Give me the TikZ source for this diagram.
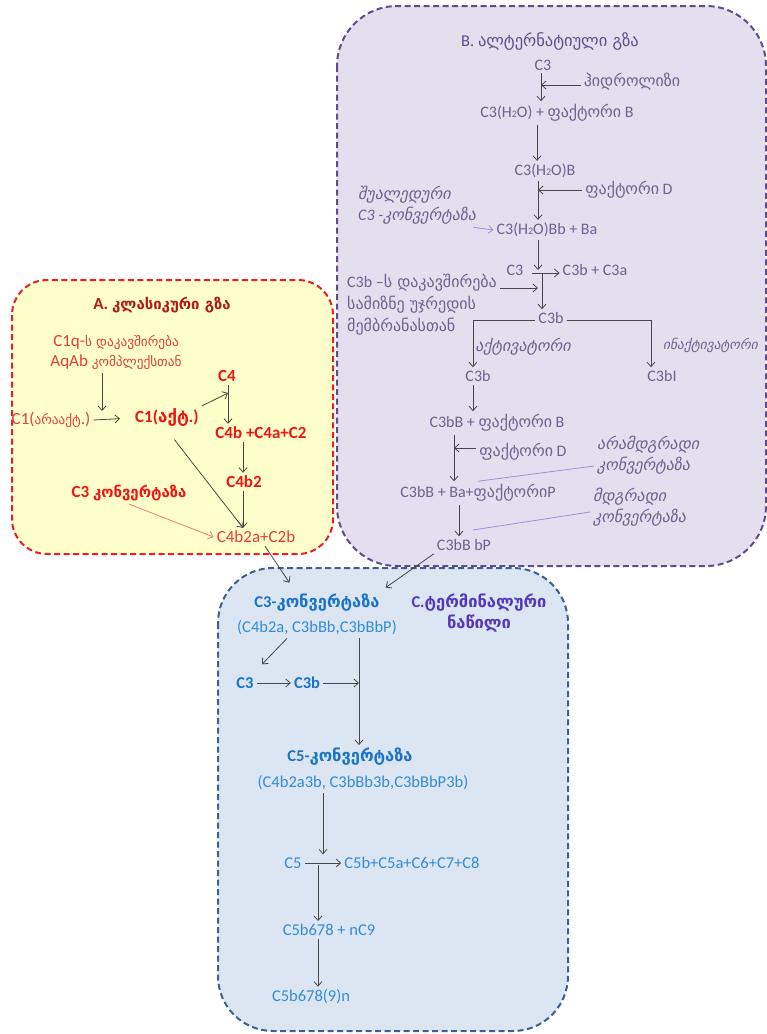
\documentclass[tikz,border=0pt]{standalone}
\usepackage{fontspec}
\setmainfont{Carlito}
\newfontfamily\geofont{DejaVu Sans}
\newfontfamily\geofontS[Scale=0.78]{DejaVu Sans}
\newfontfamily\geofontM[Scale=0.88]{DejaVu Sans}
\usetikzlibrary{arrows.meta}
\newcommand\ka[1]{{\geofont #1}}
\newcommand\kas[1]{{\geofontS #1}}
\newcommand\kam[1]{{\geofontM #1}}
\newcommand\subn[1]{{\fontsize{10}{10}\selectfont #1}}
\definecolor{Afill}{RGB}{255,255,204}
\definecolor{Adraw}{RGB}{235,30,35}
\definecolor{Bfill}{RGB}{228,223,238}
\definecolor{Bdraw}{RGB}{96,76,140}
\definecolor{Cfill}{RGB}{220,230,242}
\definecolor{Cdraw}{RGB}{60,96,146}
\definecolor{Atext}{RGB}{232,60,60}
\definecolor{Abold}{RGB}{240,20,20}
\definecolor{Atitle}{RGB}{180,25,25}
\definecolor{Btext}{RGB}{112,96,146}
\definecolor{Btitle}{RGB}{96,76,140}
\definecolor{Ctext}{RGB}{50,140,215}
\definecolor{Cbold}{RGB}{25,115,200}
\definecolor{Ctitle}{RGB}{85,55,185}
\definecolor{arr}{RGB}{70,70,70}
\definecolor{Blight}{RGB}{165,140,215}
\definecolor{Alight}{RGB}{245,120,120}
\tikzset{
  panel/.style={line width=2pt, dash pattern=on 6pt off 3.5pt},
  tA/.style={inner sep=3pt, text=Atext, font=\fontsize{17}{20}\selectfont},
  tAb/.style={inner sep=3pt, text=Abold, font=\fontsize{17}{20}\selectfont\bfseries},
  tAt/.style={inner sep=3pt, text=Atitle, font=\fontsize{17}{20}\selectfont\bfseries},
  tB/.style={inner sep=3pt, text=Btext, font=\fontsize{16}{22}\selectfont},
  tBi/.style={inner sep=3pt, text=Btext, font=\fontsize{16}{21}\selectfont\itshape},
  tBt/.style={inner sep=3pt, text=Btitle, font=\fontsize{16.5}{20}\selectfont},
  tC/.style={inner sep=3pt, text=Ctext, font=\fontsize{16.5}{21}\selectfont},
  tCb/.style={inner sep=3pt, text=Cbold, font=\fontsize{16.5}{21}\selectfont\bfseries},
  tCt/.style={inner sep=3pt, text=Ctitle, font=\fontsize{16.5}{21}\selectfont\bfseries},
  con/.style={draw=arr, line width=0.8pt, -{Straight Barb[length=4.5pt,width=8pt]}},
  plain/.style={draw=arr, line width=0.8pt},
  lightB/.style={draw=Blight, line width=0.8pt},
  lightBa/.style={draw=Blight, line width=0.8pt, -{Straight Barb[length=4.5pt,width=8pt]}},
  lightAa/.style={draw=Alight, line width=0.8pt, -{Straight Barb[length=4.5pt,width=8pt]}},
}
\begin{document}
\begin{tikzpicture}[x=1pt,y=-1pt]
\useasboundingbox (0,0) rectangle (767,1034);
\fill[white] (0,0) rectangle (767,1034);
% panels
\path[panel, draw=Bdraw, fill=Bfill, rounded corners=60pt] (337,6) rectangle (766,566);
\path[panel, draw=Adraw, fill=Afill, rounded corners=35pt] (12,280) rectangle (333,554);
\path[panel, draw=Cdraw, fill=Cfill, rounded corners=55pt] (218,568) rectangle (568,1031);

% ---------- B ----------
\node[tBt] (btitle) at (550,42) {B. \ka{ალტერნატიული გზა}};
\node[tB] (b1) at (543,65) {C3};
\node[tB] (bhyd) at (632,82) {\ka{ჰიდროლიზი}};
\node[tB] (b2) at (557,113) {C3(H\subn{2}O) + \ka{ფაქტორი} B};
\node[tB] (b3) at (545,171) {C3(H\subn{2}O)B};
\node[tB] (bfd1) at (629,190) {\ka{ფაქტორი} D};
\node[tBi, anchor=west, align=left] (bint) at (355,205) {\ka{შუალედური}\\C3 -\ka{კონვერტაზა}};
\node[tB] (b4) at (547,230) {C3(H\subn{2}O)Bb + Ba};
\node[tB] (b5) at (515,270) {C3};
\node[tB] (b6) at (595,270) {C3b + C3a};
\node[tB, anchor=west, align=left] (bbind) at (344,305) {C3b –\ka{ს დაკავშირება}\\\ka{სამიზნე უჯრედის}\\\ka{მემბრანასთან}};
\node[tB] (b7) at (551,318) {C3b};
\node[tBi] (bact) at (523,347) {\ka{აქტივატორი}};
\node[tBi, anchor=west, font=\fontsize{13.5}{16}\selectfont\itshape] (binact) at (660,345) {\ka{ინაქტივატორი}};
\node[tB] (b8) at (478,376) {C3b};
\node[tB] (b9) at (662,376) {C3bI};
\node[tB] (b10) at (497,423) {C3bB + \ka{ფაქტორი} B};
\node[tB] (bfd2) at (523,452) {\ka{ფაქტორი} D};
\node[tBi, anchor=west, align=left] (bunst) at (594,455) {\ka{არამდგრადი}\\\ka{კონვერტაზა}};
\node[tB] (b11) at (478,493) {C3bB + Ba+\ka{ფაქტორი}P};
\node[tBi, anchor=west, align=left] (bst) at (590,507) {\ka{მდგრადი}\\\ka{კონვერტაზა}};
\node[tB] (b12) at (464,545) {C3bB bP};

\coordinate (xb1) at (541,0);
\coordinate (jb1) at (541,85);
\draw[con] (b1.south -| xb1) -- (b2.north -| xb1);
\draw[con] (bhyd.west |- jb1) -- (jb1);
\coordinate (xb2) at (537,0);
\draw[con] (b2.south -| xb2) -- (b3.north -| xb2);
\coordinate (xb3) at (538,0);
\coordinate (jb2) at (538,190);
\draw[con] (b3.south -| xb3) -- (b4.north -| xb3);
\draw[con] (bfd1.west |- jb2) -- (jb2);
\draw[lightBa] ([xshift=-6pt]bint.south east) -- (b4.west);
\coordinate (jb3) at (538,270);
\draw[con] (b4.south -| jb3) -- (jb3);
\coordinate (jb4) at (532,273);
\draw[con] (jb4) -- (b6.west |- jb4);
\coordinate (jb5) at (542,273);
\draw[con] (jb5) -- (b7.north -| jb5);
\coordinate (jb6) at (538,288);
\draw[con] (bbind.east |- jb6) -- (jb6);
\coordinate (jb7) at (473,320);
\coordinate (jb8) at (651,320);
\draw[plain] (b7.west |- jb7) -- (jb7);
\draw[plain] (b7.east |- jb8) -- (jb8);
\draw[con] (jb7) -- (b8.north -| jb7);
\draw[con] (jb8) -- (b9.north -| jb8);
\coordinate (xb4) at (473,0);
\draw[con] (b8.south -| xb4) -- (b10.north -| xb4);
\coordinate (xb5) at (454,0);
\coordinate (jb9) at (454,448);
\draw[con] (b10.south -| xb5) -- (b11.north -| xb5);
\draw[con] (bfd2.west |- jb9) -- (jb9);
\coordinate (xb6) at (459,0);
\draw[con] (b11.south -| xb6) -- (b12.north -| xb6);
\draw[lightB] (b11.north) -- ([yshift=-11pt]bunst.west);
\coordinate (lb2) at (473,530);
\draw[lightB] (lb2) -- ([yshift=-5pt]bst.west);

% ---------- A ----------
\node[tAt] (atitle) at (162,305) {A. \kam{კლასიკური გზა}};
\node[tA, align=center] (a1) at (116,353) {C1q-\kas{ს დაკავშირება}\\AqAb \kas{კომპლექსთან}};
\node[tA] (a2) at (51,420) {C1(\kas{არააქტ}.)};
\node[tAb] (a3) at (167,418) {C1(\ka{აქტ}.)};
\node[tAb] (a4) at (227,376) {C4};
\node[tAb] (a5) at (261,433) {C4b +C4a+C2};
\node[tAb] (a6) at (244,482) {C4b2};
\node[tAb] (a7) at (129,493) {C3 \kam{კონვერტაზა}};
\node[tA] (a8) at (256,537) {C4b2a+C2b};

\coordinate (ja1) at (102,411);
\draw[con] (a1.south -| ja1) -- (ja1);
\draw[con, shorten >=12pt] (a2.east) -- (a3.west);
\coordinate (ja2) at (228,393);
\draw[con] (a3.north east) -- (ja2);
\coordinate (xa2) at (228,0);
\draw[con] (a4.south -| xa2) -- (a5.north -| xa2);
\coordinate (xa3) at (243,0);
\draw[con] (a5.south -| xa3) -- (a6.north -| xa3);
\draw[con] (a6.south -| xa3) -- (a8.north -| xa3);
\draw[con, shorten <=12pt] (a3.south) -- (a8.north -| xa3);
\draw[lightAa] (a7.south) -- (a8.west);

% ---------- C ----------
\node[tCb] (c1) at (317,603) {C3-\ka{კონვერტაზა}};
\node[tC] (c2) at (317,628) {(C4b2a, C3bBb,C3bBbP)};
\node[tCt, align=center] (ctitle) at (479,613) {C.\ka{ტერმინალური}\\\ka{ნაწილი}};
\node[tCb] (c3) at (245,683) {C3};
\node[tCb] (c4) at (307,683) {C3b};
\node[tCb] (c5) at (350,757) {C5-\ka{კონვერტაზა}};
\node[tC] (c6) at (363,783) {(C4b2a3b, C3bBb3b,C3bBbP3b)};
\node[tC] (c7) at (293,863) {C5};
\node[tC] (c8) at (412,863) {C5b+C5a+C6+C7+C8};
\node[tC] (c9) at (329,930) {C5b678 + nC9};
\node[tC] (c10) at (311,997) {C5b678(9)n};

\draw[con, shorten >=10pt] ([xshift=9pt]a8.south) -- ([xshift=-22pt]c1.north);
\draw[con, shorten >=6pt] (b12.south west) -- ([xshift=-2pt]c1.north east);
\draw[con] ([xshift=-30pt]c2.south) -- ([xshift=17pt,yshift=10pt]c3.north);
\draw[con] (c3.east) -- (c4.west);
\coordinate (xc1) at (359,0);
\draw[con] (c4.east) -- (c4.east -| xc1);
\draw[con] (c2.south -| xc1) -- (c5.north -| xc1);
\coordinate (xc2) at (323,0);
\draw[con] (c6.south -| xc2) -- (c7.north -| xc2);
\draw[con] (c7.east) -- (c8.west);
\coordinate (jc2) at (318,865);
\draw[con] (jc2) -- (c9.north -| jc2);
\coordinate (xc3) at (318,0);
\draw[con] (c9.south -| xc3) -- (c10.north -| xc3);
\end{tikzpicture}
\end{document}
